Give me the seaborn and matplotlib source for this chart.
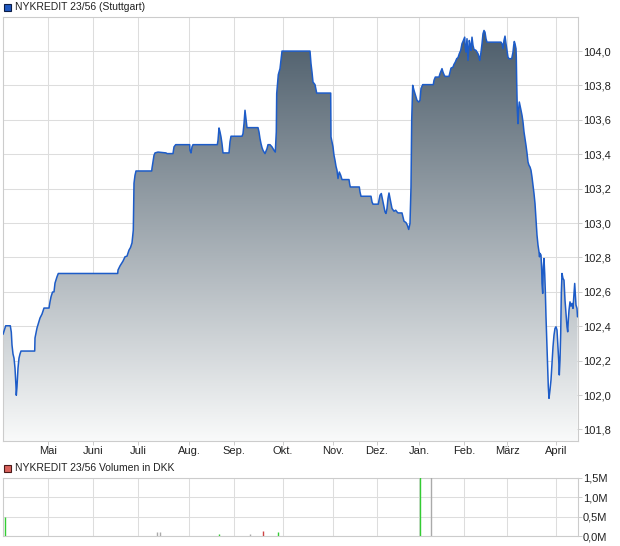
import numpy as np
import matplotlib
matplotlib.use("Agg")
import matplotlib.pyplot as plt
import seaborn as sns
from matplotlib.colors import LinearSegmentedColormap
from matplotlib.patches import Rectangle

# ---------------- data ----------------
# time index (session position along the axis) and closing price
session = [
    0, 2.7, 7.3, 8.3, 9, 10, 11, 12, 13, 13.3, 14, 15, 16, 17, 18, 31.7, 32, 33, 34, 35.5, 37, 39, 41, 46, 47, 48, 49.5, 51, 52, 54, 55.3,
    114.7, 115, 117, 120, 122, 124, 126, 127.5, 129, 130.3, 131, 132, 133, 148.7, 149, 150, 151, 152, 155, 163, 164, 170, 171, 172.7, 186.7, 187, 188, 189, 190,
    214.3, 215, 216, 217, 218, 219, 220, 226, 227, 228, 239, 240, 241, 242, 243, 244, 255, 256, 257, 258, 259, 260, 261, 262, 264, 265, 267, 269, 271, 272.3,
    273.3, 273.7, 275.3, 277, 279, 307, 308, 309, 310, 312, 313.7, 327.7, 328, 330, 331, 332, 333, 334, 335, 336.3, 337.7, 339, 346, 346.7, 347.3,
    356.3, 357, 358, 368, 369, 370, 375.3, 376, 377, 378.3, 379, 380, 381, 382, 383, 384, 385, 386, 387, 388, 389, 391, 392.7, 394, 395, 399, 400, 401, 403, 404.3, 405.7, 407,
    408, 408.7, 409.7, 411, 412, 413, 414, 415.7, 417, 418, 419.7, 430.3, 431, 432.3, 436, 437, 438, 439, 440, 441, 442, 446, 447, 448, 450, 451, 452.3, 453.7, 455, 456.3, 457.7, 459, 460, 461.7, 462.3, 463, 464, 465, 466.3, 467.3, 468, 469, 470, 471, 473, 474, 475, 476, 476.7, 478, 479, 480, 481, 482, 483, 484,
    498, 499, 500, 501, 502, 503, 504, 505, 506, 508.7, 510, 510.7, 511.3, 512, 513, 513.3, 513.7, 514.3, 515, 515.7, 516.3, 517, 518, 519, 520, 521, 522, 523, 524, 525, 526, 527, 528, 529, 530, 531, 532, 533, 534, 535, 536, 536.5, 537, 538, 538.7, 539, 539.7, 540.3, 541, 541.7, 542.3, 543, 544, 544.7, 545.3, 546, 547, 548, 549, 550, 551, 552, 553, 554, 555, 555.7, 556.3, 557, 557.7, 558.3, 559, 560, 561, 562, 563, 564, 564.7, 565.3, 566, 567, 568, 569, 570, 571, 571.7, 572.3, 573, 574, 574.5,
]
price = [
    102.353, 102.403, 102.403, 102.366, 102.291, 102.239, 102.215, 102.157, 102.049, 101.999, 102.049, 102.157, 102.215, 102.239, 102.256, 102.256, 102.332, 102.361, 102.390, 102.419, 102.448, 102.471, 102.506, 102.506, 102.542, 102.571, 102.599, 102.600, 102.651, 102.688, 102.707,
    102.707, 102.727, 102.751, 102.779, 102.804, 102.808, 102.843, 102.858, 102.885, 102.959, 103.232, 103.278, 103.303, 103.303, 103.319, 103.355, 103.394, 103.408, 103.413, 103.408, 103.404, 103.404, 103.443, 103.456, 103.456, 103.423, 103.408, 103.443, 103.456,
    103.456, 103.481, 103.553, 103.530, 103.501, 103.462, 103.408, 103.408, 103.472, 103.505, 103.505, 103.520, 103.578, 103.656, 103.607, 103.555, 103.555, 103.530, 103.491, 103.462, 103.439, 103.423, 103.413, 103.404, 103.433, 103.456, 103.456, 103.443, 103.423, 103.413,
    103.530, 103.753, 103.863, 103.898, 104.000, 104.000, 103.927, 103.878, 103.820, 103.805, 103.756, 103.756, 103.501, 103.443, 103.394, 103.365, 103.330, 103.307, 103.259, 103.297, 103.278, 103.253, 103.253, 103.226, 103.210,
    103.210, 103.181, 103.156, 103.156, 103.123, 103.110, 103.110, 103.133, 103.162, 103.172, 103.152, 103.123, 103.094, 103.065, 103.056, 103.085, 103.143, 103.175, 103.143, 103.114, 103.085, 103.069, 103.075, 103.065, 103.059, 103.059, 103.036, 103.011, 103.003, 102.988, 102.963, 102.998,
    103.210, 103.598, 103.801, 103.772, 103.753, 103.733, 103.714, 103.704, 103.714, 103.782, 103.805, 103.805, 103.830, 103.849, 103.849, 103.869, 103.884, 103.898, 103.878, 103.863, 103.853, 103.853, 103.878, 103.901, 103.907, 103.923, 103.936, 103.956, 103.962, 103.985, 104.004, 104.043, 104.056, 104.081, 104.014, 103.994, 104.072, 103.946, 104.062, 104.033, 104.004, 104.081, 104.033, 104.010, 104.004, 103.994, 103.985, 103.965, 103.946, 103.994, 104.043, 104.101, 104.120, 104.110, 104.072, 104.052,
    104.052, 104.043, 104.014, 104.062, 104.087, 104.043, 104.004, 103.965, 103.956, 103.956, 103.994, 104.033, 104.056, 104.043, 104.014, 103.965, 103.820, 103.656, 103.578, 103.666, 103.704, 103.685, 103.656, 103.627, 103.588, 103.530, 103.491, 103.452, 103.408, 103.355, 103.336, 103.326, 103.307, 103.268, 103.220, 103.172, 103.114, 103.017, 102.930, 102.872, 102.833, 102.804, 102.824, 102.814, 102.727, 102.649, 102.591, 102.746, 102.794, 102.707, 102.610, 102.455, 102.281, 102.165, 102.049, 101.981, 102.030, 102.088, 102.185, 102.281, 102.349, 102.388, 102.397, 102.378, 102.281, 102.204, 102.117, 102.204, 102.359, 102.591, 102.707, 102.678, 102.668, 102.552, 102.475, 102.397, 102.368, 102.436, 102.494, 102.542, 102.517, 102.533, 102.504, 102.591, 102.649, 102.591, 102.523, 102.504, 102.455,
]
assert len(session) == len(price)

month_labels = ["Mai", "Juni", "Juli", "Aug.", "Sep.", "Okt.", "Nov.", "Dez.", "Jan.", "Feb.", "März", "April"]
month_pos = [45, 90, 135, 186, 231, 280, 330, 374, 416, 461, 504, 553]

price_ticks = [101.8, 102.0, 102.2, 102.4, 102.6, 102.8, 103.0, 103.2, 103.4, 103.6, 103.8, 104.0]

vol_session = [2.3, 153.7, 157.3, 216.3, 247.3, 260.3, 275.3, 417.3, 428.3]
vol_value = [0.50e6, 0.095e6, 0.095e6, 0.05e6, 0.05e6, 0.13e6, 0.10e6, 2.0e6, 1.8e6]
vol_dir = ["up", "flat", "flat", "up", "flat", "down", "up", "up", "flat"]
vol_ticks = [0, 0.5e6, 1.0e6, 1.5e6]
vol_tick_labels = ["0,0M", "0,5M", "1,0M", "1,5M"]

# ---------------- style ----------------
sns.set_style("white")
plt.rcParams['font.family'] = ['Liberation Sans', 'DejaVu Sans']

W, H = 620, 546
fig = plt.figure(figsize=(W / 100, H / 100), dpi=100)

GRID = "#dddddd"
SPINE = "#cccccc"
LINE = "#1d5cc8"
TXT = "#222222"

ylo, yhi = 101.733, 104.2
xlo, xhi = 0, 575

ax = fig.add_axes([3 / W, 1 - 441 / H, 575 / W, (441 - 16.7) / H])
axv = fig.add_axes([3 / W, 1 - 536 / H, 575 / W, (536 - 477.7) / H])

# gradient fill under the price line
cmap = LinearSegmentedColormap.from_list("g", ["#f9fafa", "#465765"])
grad = np.linspace(0, 1, 256).reshape(-1, 1)
im = ax.imshow(grad, extent=[xlo, xhi, ylo, yhi], origin="lower", aspect="auto",
               cmap=cmap, zorder=1, interpolation="bilinear")
poly = ax.fill_between(session, price, ylo, facecolor="none", edgecolor="none")
im.set_clip_path(poly.get_paths()[0], transform=ax.transData)

sns.lineplot(x=session, y=price, ax=ax, color=LINE, linewidth=1.1,
             estimator=None, sort=False, zorder=3)

ax.set_xlim(xlo, xhi)
ax.set_ylim(ylo, yhi)
ax.set_xticks(month_pos)
ax.set_xticklabels(month_labels)
ax.set_yticks(price_ticks)
ax.set_yticklabels([f"{v:.1f}".replace(".", ",") for v in price_ticks])
ax.yaxis.tick_right()
ax.grid(True, color=GRID, linewidth=0.75, zorder=0)
ax.set_axisbelow(True)
ax.tick_params(axis="both", length=3, width=0.7, color=SPINE, labelsize=8,
               labelcolor=TXT, pad=0.6)
ax.tick_params(axis="y", right=True, left=False)
ax.tick_params(axis="x", bottom=True)
for s in ax.spines.values():
    s.set_color(SPINE)
    s.set_linewidth(0.8)
ax.set_xlabel("")
ax.set_ylabel("")

# volume panel
cmap_dir = {"up": "#33cc33", "down": "#cc4444", "flat": "#aaaaaa"}
axv.vlines(vol_session, 0, vol_value, colors=[cmap_dir[d] for d in vol_dir],
           linewidth=1.0, zorder=3)
axv.set_xlim(xlo, xhi)
axv.set_ylim(0, 1.5e6)
axv.set_xticks(month_pos)
axv.set_xticklabels([])
axv.set_yticks(vol_ticks)
axv.set_yticklabels(vol_tick_labels)
axv.yaxis.tick_right()
axv.grid(True, color=GRID, linewidth=0.75, zorder=0)
axv.set_axisbelow(True)
axv.tick_params(axis="both", length=3, width=0.7, color=SPINE, labelsize=8,
                labelcolor=TXT, pad=0.6)
axv.tick_params(axis="x", length=0)
for s in axv.spines.values():
    s.set_color(SPINE)
    s.set_linewidth(0.8)

# headers with legend squares
fig.patches.append(Rectangle((4 / W, 1 - 11 / H), 7 / W, 7 / H, transform=fig.transFigure,
                             facecolor="#2159c0", edgecolor="#0d1d45", linewidth=0.8))
fig.text(15 / W, 1 - 7.5 / H, "NYKREDIT 23/56 (Stuttgart)", fontsize=7.5, color=TXT,
         va="center", ha="left")
fig.patches.append(Rectangle((4 / W, 1 - 471.5 / H), 7 / W, 7 / H, transform=fig.transFigure,
                             facecolor="#d9625c", edgecolor="#4a1a1a", linewidth=0.8))
fig.text(15 / W, 1 - 468 / H, "NYKREDIT 23/56 Volumen in DKK", fontsize=7.5, color=TXT,
         va="center", ha="left")

fig.savefig("out.png", dpi=100)
